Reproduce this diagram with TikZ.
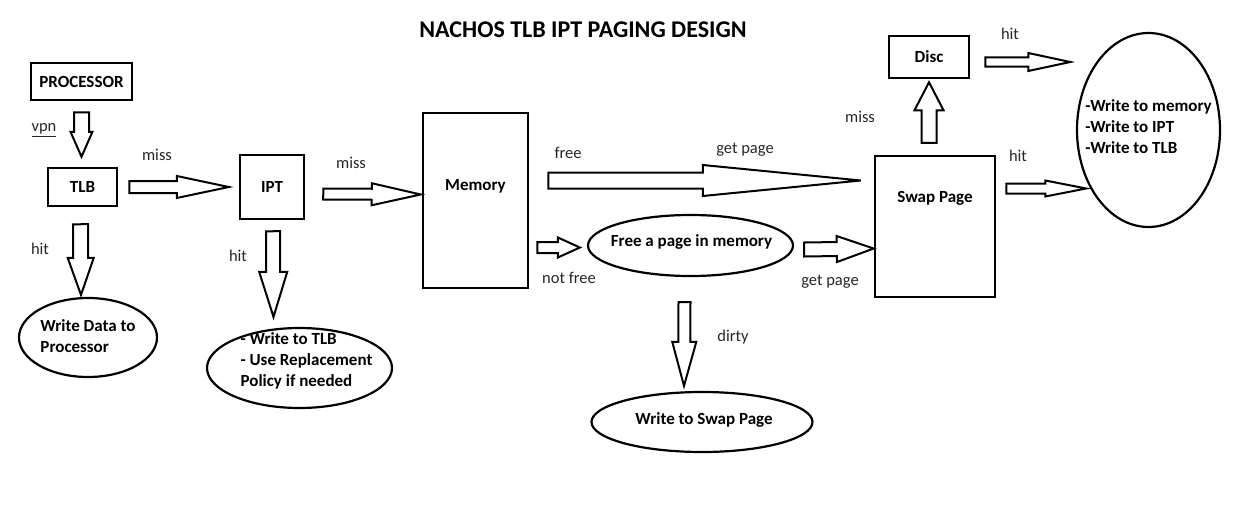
\documentclass[tikz,border=0pt]{standalone}
\usepackage{fontspec}
\setmainfont{Carlito}
\usepackage{tikz}
\usetikzlibrary{calc,shapes.geometric}

\tikzset{
  box/.style={draw, line width=2.5pt, inner sep=0pt, font=\bfseries\fontsize{17}{21}\selectfont},
  oval/.style={draw, ellipse, line width=2.2pt, inner sep=0pt},
  ovaltxt/.style={align=left, inner sep=0pt, font=\bfseries\fontsize{17}{21}\selectfont},
  lbl/.style={font=\fontsize{16.5}{20}\selectfont, text=black!85},
  barrow/.style={draw, line width=2pt, fill=white, line join=miter},
}

% block arrow: tail, tip, half shaft, half head, head length
\newcommand{\blockarrow}[5]{
  \coordinate (ba-t) at #1;
  \coordinate (ba-p) at #2;
  \coordinate (ba-b) at ($(ba-p)!#5pt!(ba-t)$);
  \draw[barrow] ($(ba-t)!#3pt!90:(ba-p)$) -- ($(ba-b)!#3pt!90:(ba-p)$)
    -- ($(ba-b)!#4pt!90:(ba-p)$) -- (ba-p) -- ($(ba-b)!#4pt!-90:(ba-p)$)
    -- ($(ba-b)!#3pt!-90:(ba-p)$) -- ($(ba-t)!#3pt!-90:(ba-p)$) -- cycle;
}

\begin{document}
\begin{tikzpicture}[x=1pt, y=-1pt]
    \useasboundingbox (0,0) rectangle (1233,511);

    \node[font=\bfseries\fontsize{24}{28}\selectfont] (title) at (583,30) {NACHOS TLB IPT PAGING DESIGN};

    % boxes
    \node[box, minimum width=101, minimum height=37] (proc) at (81.5,81.5) {PROCESSOR};
    \node[box, minimum width=69, minimum height=38] (tlb) at (82.5,187) {TLB};
    \node[box, minimum width=64, minimum height=64] (ipt) at (272,187) {IPT};
    \node[box, minimum width=105, minimum height=175, label={[box, draw=none, yshift=14pt]center:Memory}] (mem) at (475.5,200.5) {};
    \node[box, minimum width=120, minimum height=141, label={[box, draw=none, yshift=28pt]center:Swap Page}] (swap) at (935,226.5) {};
    \node[box, minimum width=80, minimum height=42] (disc) at (929,57) {Disc};

    % ellipses
    \node[oval, minimum width=138, minimum height=79, label={[ovaltxt, yshift=1pt]center:Write Data to\\Processor}] (wdp) at (88,337.5) {};
    \node[oval, minimum width=185, minimum height=80, label={[ovaltxt, xshift=7pt, yshift=7pt]center:- Write to TLB\\- Use Replacement\\Policy if needed}] (wtlb) at (299.5,368) {};
    \node[oval, minimum width=205, minimum height=61, label={[ovaltxt, xshift=1pt, yshift=4pt]center:Free a page in memory}] (fpm) at (690.5,245.5) {};
    \node[oval, minimum width=221, minimum height=60, label={[ovaltxt, xshift=2pt, yshift=2pt]center:Write to Swap Page}] (wsp) at (702,422) {};
    \node[oval, minimum width=143, minimum height=194, label={[ovaltxt, yshift=3pt]center:-Write to memory\\-Write to IPT\\-Write to TLB}] (wall) at (1148.5,130) {};

    % arrows
    \blockarrow{($(proc.south)+(0,11)$)}{($(tlb.north)+(-1,-10)$)}{7.5}{11}{25}
    \blockarrow{($(tlb.east)+(11,0)$)}{($(ipt.west)+(-10,0)$)}{6}{11}{52}
    \blockarrow{($(tlb.south)+(-2,17)$)}{($(wdp.north)+(-7,-2)$)}{7.5}{13}{37}
    \blockarrow{($(ipt.south)+(1,11)$)}{($(wtlb.north)+(-26,-10)$)}{7}{14}{45}
    \blockarrow{($(ipt.east)+(18,7)$)}{($(mem.west)+(-1,-6)$)}{5.5}{11}{49}
    \blockarrow{($(mem.east)+(19,-20)$)}{($(swap.west)+(-13,-46)$)}{8}{15.5}{158}
    \blockarrow{($(mem.east)+(8,47)$)}{($(fpm.west)+(-7,2)$)}{5.5}{10}{22}
    \blockarrow{($(fpm.east)+(10,4)$)}{($(swap.west)+(0,22)$)}{7}{13}{37}
    \blockarrow{($(fpm.south)+(-6,25)$)}{($(wsp.north)+(-18,-5)$)}{6}{12}{44}
    \blockarrow{($(swap.north)+(-6,-12)$)}{($(disc.south)+(0,3)$)}{7.5}{14.5}{28}
    \blockarrow{($(disc.east)+(15,5)$)}{($(disc.east)+(100,5)$)}{4.5}{9}{42}
    \blockarrow{($(swap.east)+(10,-38)$)}{($(swap.east)+(90,-38)$)}{5}{8}{41}

    % labels
    \node[lbl] (vpn) at (44,130) {\underline{vpn}};
    \foreach \t/\x/\y [count=\i] in {miss/157/155, miss/351/163, miss/860/117,
        hit/40/249, hit/238/256, hit/1010/34, hit/1018/156,
        free/568/153, get page/745/150, not free/569/278, get page/830/282, dirty/733/337}{
      \node[lbl] (lbl\i) at (\x,\y) {\t};
    }
\end{tikzpicture}
\end{document}
